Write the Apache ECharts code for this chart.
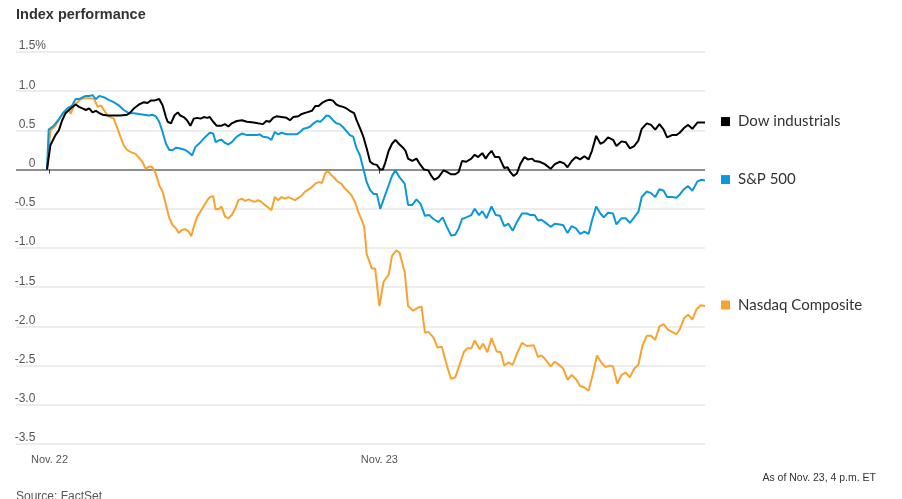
<!DOCTYPE html>
<html><head><meta charset="utf-8">
<script src="https://cdn.jsdelivr.net/npm/echarts@6/dist/echarts.min.js"></script>
<style>html,body{margin:0;padding:0;background:#fff}#c{width:902px;height:499px}</style>
</head><body><div id="c"></div>
<script>
// minutes since Nov. 22 open (two sessions of 390 min), values = % change
const dowTimes = [0,4,10,14,18,22,28,34,38,42,46,50,54,58,62,66,72,79,87,95,99,103,109,115,119,123,127,133,137,141,143,147,151,155,158,162,166,170,174,178,182,186,190,193,197,201,207,211,215,219,225,231,237,245,250,256,260,264,268,272,278,284,288,292,298,302,308,314,318,322,326,331,335,339,343,347,351,355,359,364,367,371,375,379,383,387,391,395,398,401,405,409,413,417,422,425,428,433,438,442,447,452,455,459,464,470,474,479,484,488,492,497,503,507,511,516,520,523,527,531,536,539,542,546,549,553,557,561,566,570,575,578,584,590,597,602,608,613,617,622,627,632,637,642,646,651,656,660,665,671,675,681,686,691,696,701,705,711,716,721,726,731,735,741,746,750,755,760,765,771,776,780];
const dowValues = [0,0.31,0.44,0.50,0.63,0.72,0.78,0.83,0.80,0.78,0.76,0.78,0.73,0.75,0.72,0.70,0.69,0.69,0.69,0.70,0.73,0.78,0.83,0.86,0.85,0.88,0.88,0.90,0.82,0.67,0.61,0.59,0.69,0.73,0.69,0.67,0.63,0.56,0.65,0.66,0.65,0.67,0.66,0.67,0.61,0.56,0.56,0.58,0.55,0.59,0.62,0.63,0.61,0.60,0.59,0.58,0.62,0.61,0.66,0.68,0.67,0.66,0.63,0.67,0.68,0.71,0.73,0.75,0.81,0.81,0.85,0.88,0.89,0.88,0.83,0.81,0.80,0.78,0.75,0.72,0.63,0.53,0.42,0.27,0.10,0.07,0.06,0.0,0.0,0.09,0.24,0.33,0.38,0.33,0.28,0.24,0.14,0.11,0.14,0.07,0.0,-0.01,-0.07,-0.13,-0.10,-0.01,-0.03,-0.06,-0.06,-0.03,0.11,0.10,0.14,0.19,0.16,0.21,0.14,0.19,0.24,0.16,0.16,0.09,0.02,0.03,-0.03,-0.08,-0.05,0.07,0.16,0.13,0.14,0.11,0.10,0.07,0.01,0.07,0.10,0.08,0.03,0.11,0.16,0.13,0.17,0.13,0.24,0.43,0.33,0.35,0.41,0.38,0.30,0.36,0.35,0.27,0.30,0.37,0.52,0.59,0.57,0.51,0.58,0.51,0.41,0.44,0.44,0.47,0.53,0.57,0.52,0.60,0.60,0.60];

const spxTimes = [0,2,8,14,18,24,30,34,38,42,46,50,54,58,62,68,73,79,85,91,97,103,109,115,121,125,129,133,137,141,145,149,153,158,164,168,172,176,182,188,193,197,200,203,207,211,215,219,225,231,237,243,249,252,256,262,266,270,274,278,284,290,296,300,304,308,312,316,320,324,328,331,335,339,343,347,351,355,359,363,367,371,375,379,383,387,391,395,399,405,409,413,418,424,428,433,438,443,448,453,458,464,469,474,479,484,488,492,497,503,507,512,516,521,527,532,537,542,547,552,557,563,569,573,578,582,586,590,597,602,608,612,617,622,627,632,637,642,646,651,656,660,665,671,675,681,686,691,696,701,705,711,716,721,726,731,735,741,746,750,755,760,765,771,776,780];
const spxValues = [0,0.51,0.56,0.64,0.71,0.78,0.82,0.90,0.90,0.92,0.94,0.94,0.95,0.90,0.94,0.92,0.89,0.86,0.82,0.76,0.72,0.72,0.71,0.70,0.69,0.70,0.68,0.61,0.48,0.33,0.25,0.25,0.28,0.27,0.25,0.22,0.18,0.29,0.35,0.42,0.47,0.46,0.35,0.37,0.38,0.34,0.32,0.35,0.42,0.46,0.44,0.44,0.44,0.45,0.42,0.41,0.38,0.48,0.45,0.47,0.45,0.45,0.45,0.48,0.52,0.53,0.55,0.59,0.62,0.61,0.65,0.69,0.68,0.63,0.59,0.58,0.54,0.49,0.44,0.42,0.27,0.18,0.01,-0.16,-0.26,-0.31,-0.31,-0.50,-0.38,-0.20,-0.08,-0.01,-0.10,-0.18,-0.45,-0.45,-0.38,-0.44,-0.59,-0.58,-0.63,-0.67,-0.61,-0.73,-0.84,-0.83,-0.75,-0.63,-0.61,-0.58,-0.50,-0.58,-0.53,-0.62,-0.47,-0.58,-0.59,-0.72,-0.69,-0.78,-0.67,-0.56,-0.56,-0.58,-0.58,-0.65,-0.64,-0.67,-0.73,-0.69,-0.70,-0.71,-0.81,-0.72,-0.75,-0.82,-0.79,-0.82,-0.65,-0.47,-0.56,-0.61,-0.55,-0.56,-0.70,-0.62,-0.62,-0.68,-0.61,-0.54,-0.35,-0.28,-0.30,-0.35,-0.25,-0.27,-0.35,-0.35,-0.36,-0.32,-0.25,-0.21,-0.27,-0.15,-0.13,-0.14];

const ndxTimes = [0,4,10,16,22,26,28,32,36,40,44,48,52,56,60,64,68,72,75,79,83,87,91,95,100,105,109,113,117,121,125,129,133,137,141,145,149,153,156,160,164,168,171,174,178,184,190,193,197,200,204,207,211,215,219,223,227,231,235,239,243,247,250,254,258,262,266,270,274,278,282,286,290,294,298,302,306,312,318,322,326,330,333,337,341,345,349,353,357,361,365,369,373,376,379,385,389,394,399,405,409,414,418,424,428,434,440,444,448,452,458,463,468,474,479,484,490,494,498,503,507,513,517,522,527,533,538,542,547,552,557,563,569,577,582,586,590,597,602,608,612,617,622,627,632,637,642,647,652,657,662,667,671,676,681,686,691,696,701,706,711,716,721,726,731,736,741,746,750,755,760,765,770,775,780];
const ndxValues = [0,0.50,0.56,0.67,0.75,0.76,0.71,0.82,0.86,0.90,0.91,0.91,0.91,0.90,0.80,0.82,0.75,0.69,0.67,0.65,0.54,0.42,0.31,0.25,0.22,0.20,0.15,0.10,0.01,0.04,0.03,-0.05,-0.20,-0.28,-0.45,-0.62,-0.71,-0.75,-0.81,-0.77,-0.76,-0.79,-0.85,-0.73,-0.60,-0.50,-0.39,-0.35,-0.34,-0.51,-0.50,-0.47,-0.60,-0.62,-0.58,-0.50,-0.39,-0.37,-0.40,-0.38,-0.40,-0.41,-0.39,-0.41,-0.45,-0.48,-0.52,-0.35,-0.39,-0.35,-0.37,-0.35,-0.37,-0.39,-0.36,-0.33,-0.28,-0.24,-0.18,-0.16,-0.17,-0.04,-0.02,-0.07,-0.11,-0.16,-0.18,-0.24,-0.28,-0.33,-0.41,-0.54,-0.64,-0.73,-1.08,-1.26,-1.26,-1.74,-1.43,-1.34,-1.10,-1.03,-1.06,-1.31,-1.74,-1.80,-1.76,-1.75,-2.08,-2.07,-2.14,-2.27,-2.26,-2.50,-2.67,-2.65,-2.46,-2.33,-2.28,-2.28,-2.18,-2.29,-2.22,-2.33,-2.15,-2.32,-2.33,-2.50,-2.46,-2.49,-2.35,-2.21,-2.25,-2.24,-2.39,-2.37,-2.41,-2.51,-2.45,-2.50,-2.54,-2.68,-2.62,-2.67,-2.76,-2.78,-2.82,-2.61,-2.37,-2.46,-2.52,-2.50,-2.51,-2.73,-2.62,-2.59,-2.65,-2.54,-2.49,-2.24,-2.12,-2.12,-2.17,-2.00,-1.97,-2.04,-2.07,-2.10,-2.04,-1.90,-1.85,-1.91,-1.78,-1.73,-1.74];

const seriesNames = ['Dow industrials', 'S&P 500', 'Nasdaq Composite'];
const seriesColors = ['#000000', '#0b97d9', '#f7a330'];
const xTickMinutes = [3, 394];
const xTickLabels = ['Nov. 22', 'Nov. 23'];
const yMin = -3.5, yMax = 1.5, yStep = 0.5;
const titleText = 'Index performance';
const sourceText = 'Source: FactSet';
const noteText = 'As of Nov. 23, 4 p.m. ET';

const FONT = '"Liberation Sans", Arial, sans-serif';
const LEG = 'Lato, Roboto, sans-serif';
const zip = (t, v) => t.map((x, i) => [x, v[i]]);

function mkSeries(name, times, values, color) {
  return {
    name, type: 'line', data: zip(times, values), showSymbol: false, symbol: 'none',
    lineStyle: { color, width: 2 }, itemStyle: { color }, animation: false, silent: true,
    endLabel: {
      show: true, distance: 16, offset: [0, -1],
      formatter: () => '{sq|}{t|' + name + '}',
      rich: {
        sq: { width: 9, height: 9, backgroundColor: color },
        t: { fontFamily: LEG, fontSize: 15, color: '#333', padding: [0, 0, 0, 8] }
      }
    }
  };
}

const nLines = Math.round((yMax - yMin) / yStep) + 1;
const zeroIdx = Math.round((0 - yMin) / yStep);
const splitColors = Array.from({ length: nLines }, (_, i) => i === zeroIdx ? '#8e8e8e' : '#ededed');
const yLab = { fontFamily: FONT, fontSize: 12, color: '#555' };

const chart = echarts.init(document.getElementById('c'));
chart.setOption({
  animation: false,
  backgroundColor: '#fff',
  title: { text: titleText, left: 16, top: 7, padding: 0, textStyle: { fontFamily: FONT, fontWeight: 'bold', fontSize: 14.5, color: '#333' } },
  grid: { left: 16, right: 197, top: 52, bottom: 55, containLabel: false },
  xAxis: {
    type: 'value', min: -36.75, max: 780,
    axisLine: { show: false }, splitLine: { show: false },
    axisTick: { show: true, customValues: xTickMinutes, length: 4, lineStyle: { color: '#333', width: 1 } },
    axisLabel: { customValues: xTickMinutes, formatter: v => xTickLabels[xTickMinutes.indexOf(v)] || '', margin: 10, fontFamily: FONT, fontSize: 11, color: '#555' }
  },
  yAxis: {
    type: 'value', min: yMin, max: yMax, interval: yStep,
    axisLine: { show: false }, axisTick: { show: false },
    axisLabel: {
      inside: true, align: 'right', margin: 30, verticalAlign: 'bottom',
      fontFamily: FONT, fontSize: 12, color: '#555',
      formatter: v => '{n|' + (v === 0 ? '0' : v.toFixed(1)) + '}' + (v === yMax ? '{p|%}' : '{h|%}'),
      rich: { n: yLab, p: yLab, h: Object.assign({}, yLab, { color: 'rgba(0,0,0,0)' }) }
    },
    splitLine: { lineStyle: { color: splitColors, width: 2 } }
  },
  series: [
    mkSeries(seriesNames[2], ndxTimes, ndxValues, seriesColors[2]),
    mkSeries(seriesNames[1], spxTimes, spxValues, seriesColors[1]),
    mkSeries(seriesNames[0], dowTimes, dowValues, seriesColors[0])
  ],
  graphic: [
    { type: 'text', left: 16, top: 491, style: { text: sourceText, font: '12px ' + FONT, fill: '#555' } },
    { type: 'text', right: 26, top: 473, style: { text: noteText, font: '10.5px ' + FONT, fill: '#333' } }
  ]
});
</script>
</body></html>
